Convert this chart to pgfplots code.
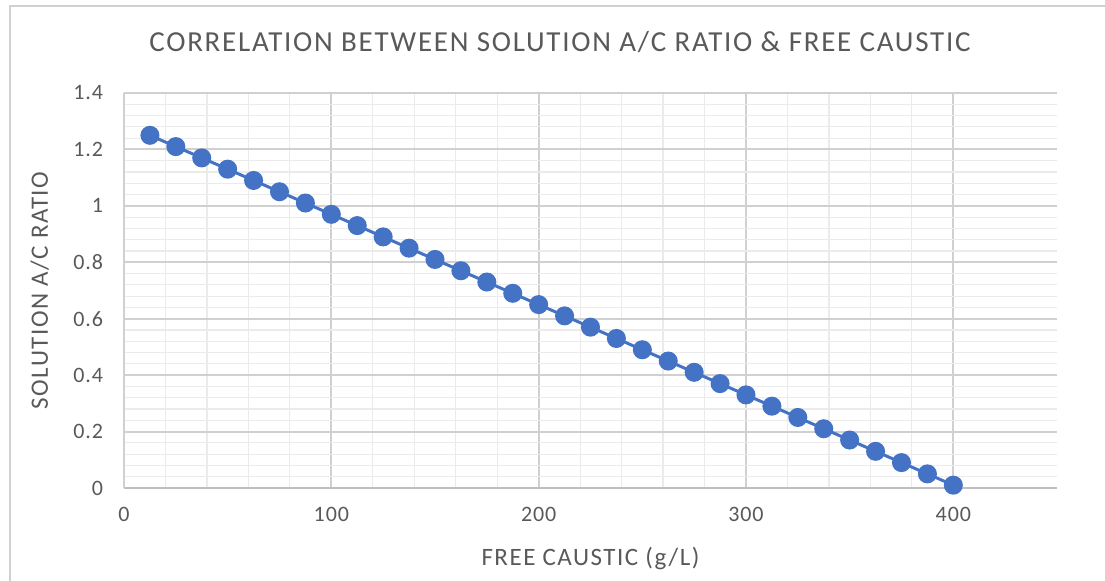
\documentclass[border=0pt]{standalone}
\usepackage{pgfplots}
\pgfplotsset{compat=1.18}
\usepackage{fontspec}
\setmainfont{Carlito}
\definecolor{serblue}{HTML}{4472C4}
\definecolor{txtgray}{HTML}{595959}
\definecolor{majgrid}{HTML}{D0D0D0}
\definecolor{mingrid}{HTML}{EBEBEB}
\definecolor{axgray}{HTML}{BFBFBF}
\begin{document}
\begin{tikzpicture}
\useasboundingbox (0,0) rectangle (552.5pt,-290.5pt);
\draw[majgrid, line width=1pt] (5pt,-290.5pt) -- (5pt,-3pt) -- (552.5pt,-3pt);
\node[anchor=base, font=\fontsize{14.5}{16}\selectfont\addfontfeature{LetterSpace=6}, text=txtgray] at (280pt,-26pt) {CORRELATION BETWEEN SOLUTION A/C RATIO \& FREE CAUSTIC};
\begin{axis}[
  at={(62pt,-244pt)}, anchor=origin,
  scale only axis, width=466.5pt, height=197.5pt,
  xmin=0, xmax=450, ymin=0, ymax=1.4,
  xtick={0,100,...,400}, ytick={0,0.2,...,1.4},
  minor x tick num=4, minor y tick num=4,
  grid=both,
  major grid style={majgrid, line width=1pt},
  minor grid style={mingrid, line width=0.6pt},
  axis x line*=bottom, axis y line*=left,
  x axis line style={axgray, line width=1pt, -},
  y axis line style={majgrid, line width=1pt, -},
  major tick length=0pt, minor tick length=0pt,
  tick label style={font=\fontsize{11}{12}\selectfont\addfontfeature{LetterSpace=4}, text=txtgray},
  /pgf/number format/assume math mode=true,
  yticklabel style={/pgf/number format/fixed, /pgf/number format/precision=1},
  xticklabel style={yshift=-6pt},
  yticklabel style={xshift=-7pt},
  xlabel={FREE CAUSTIC (g/L)},
  ylabel={SOLUTION A/C RATIO},
  label style={font=\fontsize{12.5}{14}\selectfont\addfontfeature{LetterSpace=6}, text=txtgray},
  xlabel style={at={(axis description cs:0.5,0)}, anchor=base, yshift=-39pt},
  ylabel style={at={(axis description cs:0,0.5)}, anchor=base, yshift=38pt},
  clip=false,
]
\addplot[serblue, line width=1.5pt, mark=*, mark size=4pt, mark options={fill=serblue, draw=serblue}] coordinates {
(12.5,1.25) (25,1.21) (37.5,1.17) (50,1.13) (62.5,1.09) (75,1.05) (87.5,1.01) (100,0.97)
(112.5,0.93) (125,0.89) (137.5,0.85) (150,0.81) (162.5,0.77) (175,0.73) (187.5,0.69) (200,0.65)
(212.5,0.61) (225,0.57) (237.5,0.53) (250,0.49) (262.5,0.45) (275,0.41) (287.5,0.37) (300,0.33)
(312.5,0.29) (325,0.25) (337.5,0.21) (350,0.17) (362.5,0.13) (375,0.09) (387.5,0.05) (400,0.01)
};
\end{axis}
\end{tikzpicture}
\end{document}
